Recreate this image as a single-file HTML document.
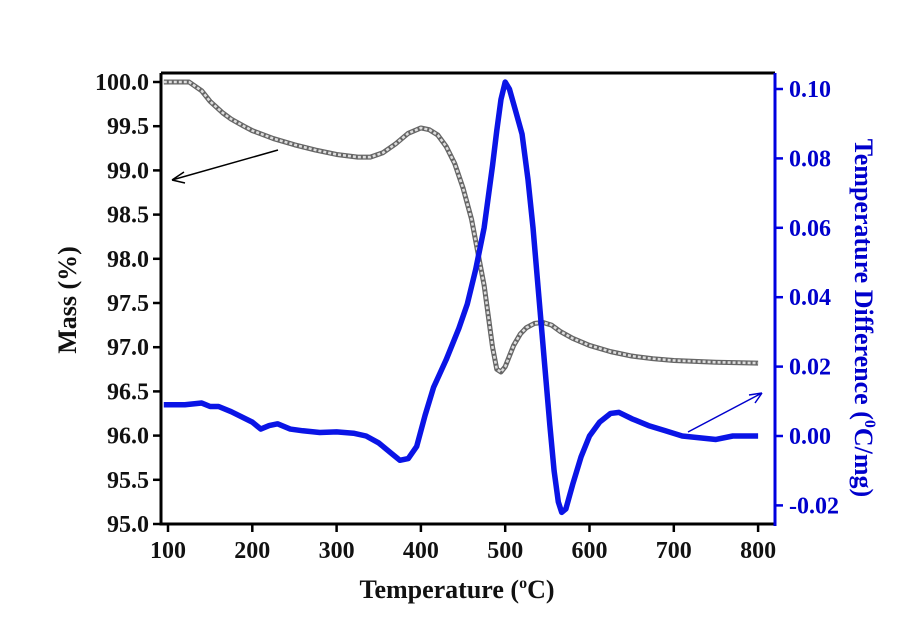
<!DOCTYPE html>
<html><head><meta charset="utf-8"><style>
body{margin:0;background:#fff}
svg text{font-family:"Liberation Serif",serif;font-weight:bold}
</style></head><body>
<svg width="900" height="628">
<g id="g"></g>
</svg>
<script>
const massT=[95,125,140,150,165,175,190,200,225,250,275,300,325,340,355,370,385,400,410,420,430,440,450,460,468,475,480,485,490,495,500,505,510,518,525,535,545,555,565,580,600,625,650,675,700,750,800];
const massV=[100,100,99.9,99.78,99.65,99.58,99.5,99.45,99.36,99.29,99.23,99.18,99.15,99.15,99.2,99.3,99.42,99.48,99.46,99.4,99.27,99.08,98.8,98.45,98.05,97.7,97.35,97.0,96.75,96.72,96.78,96.9,97.02,97.15,97.22,97.27,97.28,97.25,97.18,97.1,97.02,96.95,96.9,96.87,96.85,96.83,96.82];
const dtaT=[95,120,140,150,160,175,200,210,220,230,245,260,280,300,320,335,350,365,375,385,395,405,415,430,445,455,465,475,485,490,495,500,505,512,520,527,533,540,547,553,558,563,567,572,580,590,600,612,625,635,650,670,690,710,730,750,770,800];
const dtaV=[0.009,0.009,0.0095,0.0085,0.0085,0.007,0.004,0.002,0.003,0.0035,0.002,0.0015,0.001,0.0012,0.0008,0,-0.002,-0.005,-0.007,-0.0065,-0.003,0.006,0.014,0.022,0.031,0.038,0.048,0.06,0.078,0.088,0.097,0.102,0.1,0.094,0.087,0.074,0.06,0.04,0.02,0.003,-0.01,-0.019,-0.022,-0.021,-0.014,-0.006,0.0,0.004,0.0065,0.0068,0.005,0.003,0.0015,0.0,-0.0005,-0.001,0.0,0.0];
const xTicks=[100,200,300,400,500,600,700,800];
const yLTicks=[95.0,95.5,96.0,96.5,97.0,97.5,98.0,98.5,99.0,99.5,100.0];
const yRTicks=[-0.02,0.00,0.02,0.04,0.06,0.08,0.10];
const X=t=>168+(t-100)*84.3/100;
const YL=v=>524-(v-95)*88.4;
const YR=v=>436-v*3470;
const g=document.getElementById('g');
const NS='http://www.w3.org/2000/svg';
function mk(tag,a,txt){const e=document.createElementNS(NS,tag);for(const k in a)e.setAttribute(k,a[k]);if(txt!=null)e.textContent=txt;g.appendChild(e);return e;}
let e=mk('path',{d:'M161 73 L775 73 M161 73 L161 524 L775 524',stroke:'#000','stroke-width':3,fill:'none'});

e=mk('line',{x1:775,y1:73,x2:775,y2:526,stroke:'#0000e0','stroke-width':3});

xTicks.forEach(t=>{
 e=mk('line',{x1:X(t),y1:524,x2:X(t),y2:532,stroke:'#000','stroke-width':2.5});
 
 e=mk('text',{x:X(t),y:558,'text-anchor':'middle','font-size':24,fill:'#111'},t);
 
});
yLTicks.forEach(v=>{
 e=mk('line',{x1:153,y1:YL(v),x2:161,y2:YL(v),stroke:'#000','stroke-width':2.5});
 
 e=mk('text',{x:149,y:YL(v)+8,'text-anchor':'end','font-size':24,fill:'#111'},v.toFixed(1));
 
});
yRTicks.forEach(v=>{
 e=mk('line',{x1:775,y1:YR(v),x2:783,y2:YR(v),stroke:'#0000e0','stroke-width':2.5});
 
 e=mk('text',{x:789,y:YR(v)+8,'font-size':24,fill:'#0000cc'},v.toFixed(2));
 
});
const mp=massT.map((t,i)=>X(t)+','+YL(massV[i])).join(' ');
e=mk('polyline',{points:mp,fill:'none',stroke:'#666','stroke-width':5,'stroke-linejoin':'round'});

e=mk('polyline',{points:mp,fill:'none',stroke:'#ddd','stroke-width':2.5,'stroke-dasharray':'3 2'});

const dp=dtaT.map((t,i)=>X(t)+','+YR(dtaV[i])).join(' ');
e=mk('polyline',{points:dp,fill:'none',stroke:'#0a14e6','stroke-width':5.5,'stroke-linejoin':'round'});

e=mk('path',{d:'M278 150 L172 180 M172 180 L184 172 M172 180 L185 183',stroke:'#000','stroke-width':1.5,fill:'none'});

e=mk('path',{d:'M688 432 L762 393 M762 393 L749 395 M762 393 L755 403',stroke:'#0000cc','stroke-width':1.5,fill:'none'});

e=mk('text',{x:457,y:598,'text-anchor':'middle','font-size':26,fill:'#111'});
e.innerHTML='Temperature (<tspan dy="-10" font-size="16">o</tspan><tspan dy="10">C)</tspan>';

e=mk('text',{x:0,y:0,'text-anchor':'middle','font-size':26,fill:'#111',transform:'translate(76,300) rotate(-90)'},'Mass (%)');

e=mk('text',{x:0,y:0,'text-anchor':'middle','font-size':26,fill:'#0000cc',transform:'translate(855,318) rotate(90)'});
e.innerHTML='Temperature Difference (<tspan dy="-10" font-size="16">0</tspan><tspan dy="10">C/mg)</tspan>';

</script>
</body></html>
